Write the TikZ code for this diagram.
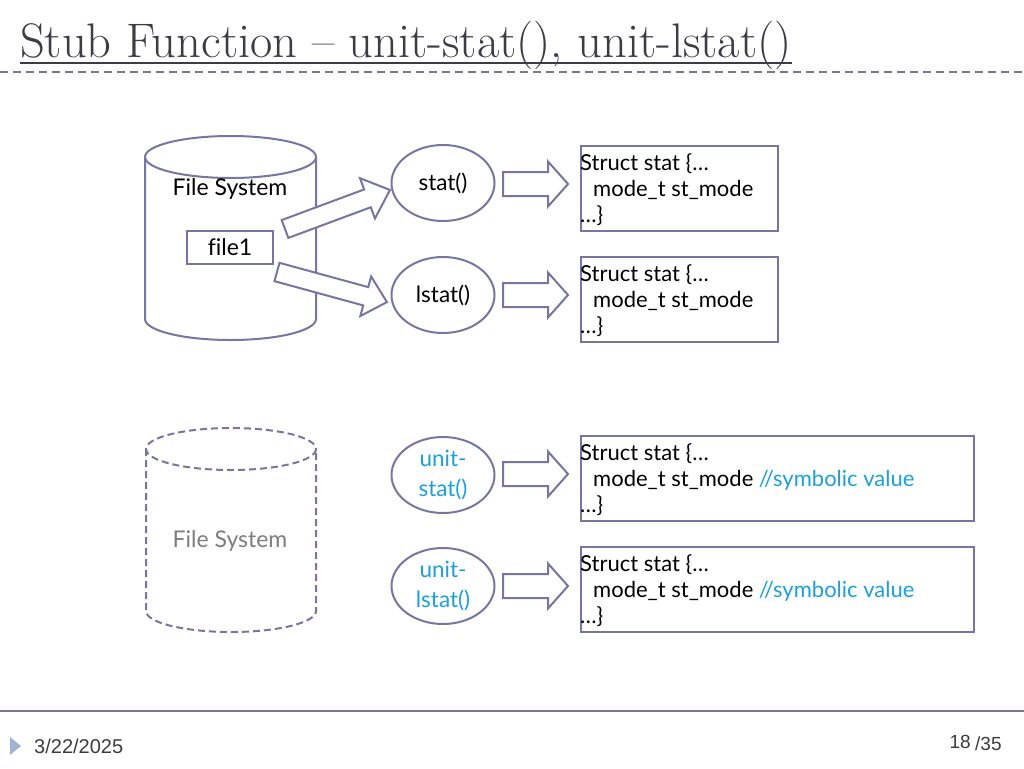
\documentclass[tikz,border=0pt]{standalone}
\usepackage{fontspec}
\newfontfamily\lato[Ligatures=NoCommon]{Lato}
\newfontfamily\arialf{Liberation Sans}
\usetikzlibrary{shapes.geometric}
\definecolor{shapeline}{RGB}{118,118,160}
\definecolor{rulecol}{RGB}{120,120,150}
\definecolor{titlegray}{RGB}{60,60,68}
\definecolor{symcyan}{RGB}{28,160,220}
\definecolor{softgray}{RGB}{125,125,125}
\definecolor{tricol}{RGB}{160,180,210}
\definecolor{footgray}{RGB}{60,60,60}
\newcommand\barrow[6]{% start, angle, length, head length, shaft half, head half
  \begin{scope}[shift={#1}, rotate=#2]
    \draw[arrowshape] (0,-#5) -- (#3-#4,-#5) -- (#3-#4,-#6) -- (#3,0) -- (#3-#4,#6) -- (#3-#4,#5) -- (0,#5) -- cycle;
  \end{scope}}
\begin{document}
\begin{tikzpicture}[x=1pt,y=-1pt,
  shp/.style={draw=shapeline, line width=2pt},
  arrowshape/.style={draw=shapeline, line width=2pt, fill=white, line join=miter},
  fn/.style={ellipse, shp, minimum width=103pt, minimum height=76pt, inner sep=0pt, align=center,
    font=\lato\fontsize{22.5}{30}\selectfont},
  sbox/.style={shp, anchor=north west, minimum height=85pt, inner sep=0pt},
  stext/.style={anchor=north west, inner sep=0pt, align=left, font=\lato\fontsize{22}{26}\selectfont},
  lbl/.style={font=\lato\fontsize{23}{26}\selectfont, inner sep=0pt}]
\useasboundingbox (0,0) rectangle (1024,768);
\fill[white] (0,0) rectangle (1024,768);

% title
\node[anchor=base west, inner sep=0pt, text=titlegray, font=\fontsize{48.5}{56}\selectfont] (title) at (20,58) {Stub Function – unit-stat(), unit-lstat()};
\draw[titlegray, line width=1.6pt] ([yshift=-5pt]title.base west) -- ([yshift=-5pt]title.base east);
\draw[rulecol, line width=2pt, dash pattern=on 8pt off 5pt] (0,72) -- (1024,72);

% solid cylinder
\draw[shp, fill=white] (145,157) -- (145,319) arc[start angle=180, end angle=0, x radius=85.5, y radius=21] -- (316,157);
\draw[shp] (230.5,157) ellipse [x radius=85.5, y radius=21];
\node[lbl] (fs1) at (230,189) {File System};
\node[shp, minimum width=86pt, minimum height=33pt, inner sep=0pt, font=\lato\fontsize{23}{26}\selectfont] (file1) at (230,247.5) {file1};

% dashed cylinder
\draw[shp, dash pattern=on 7pt off 4pt] (146,449) -- (146,611) arc[start angle=180, end angle=0, x radius=85, y radius=21] -- (316,449);
\draw[shp, dash pattern=on 7pt off 4pt] (231,449) ellipse [x radius=85, y radius=21];
\node[lbl, text=softgray] (fs2) at (230,541) {File System};

% functions
\node[fn] (stat) at (443,183) {stat()};
\node[fn] (lstat) at (443,295) {lstat()};
\node[fn, text=symcyan] (ustat) at (443,475) {unit-\\stat()};
\node[fn, text=symcyan] (ulstat) at (443,586) {unit-\\lstat()};

% block arrows
\barrow{(285,229)}{20.4}{112}{24}{9.5}{21.5}
\barrow{(277,272)}{-15.3}{114}{22}{9.5}{20.5}
\barrow{(503,184)}{0}{65}{20}{12}{22.5}
\barrow{(503,295)}{0}{65}{20}{12}{22.5}
\barrow{(503,474)}{0}{65}{20}{12}{22.5}
\barrow{(503,586)}{0}{65}{20}{12}{22.5}

% struct boxes
\node[sbox, minimum width=197pt] (b1) at (580,145) {};
\node[stext] (t1) at (580,153) {Struct stat \{…\\\hspace*{13pt}mode\_t st\_mode\\…\}};
\node[sbox, minimum width=197pt] (b2) at (580,256) {};
\node[stext] (t2) at (580,264) {Struct stat \{…\\\hspace*{13pt}mode\_t st\_mode\\…\}};
\node[sbox, minimum width=393pt] (b3) at (580,435) {};
\node[stext] (t3) at (580,443) {Struct stat \{…\\\hspace*{13pt}mode\_t st\_mode \textcolor{symcyan}{//symbolic value}\\…\}};
\node[sbox, minimum width=393pt] (b4) at (580,546) {};
\node[stext] (t4) at (580,554) {Struct stat \{…\\\hspace*{13pt}mode\_t st\_mode \textcolor{symcyan}{//symbolic value}\\…\}};

% footer
\draw[rulecol, line width=2.5pt] (0,711) -- (1024,711);
\fill[tricol] (10,737) -- (21,746) -- (10,755) -- cycle;
\node[anchor=west, inner sep=0pt, text=footgray, font=\arialf\fontsize{20}{22}\selectfont] (date) at (34,746) {3/22/2025};
\node[anchor=east, inner sep=0pt, text=footgray, font=\arialf\fontsize{19}{22}\selectfont] (pg) at (971,742) {18};
\node[anchor=west, inner sep=0pt, text=footgray, font=\arialf\fontsize{19}{22}\selectfont] (tot) at (975,744) {/35};
\end{tikzpicture}
\end{document}
